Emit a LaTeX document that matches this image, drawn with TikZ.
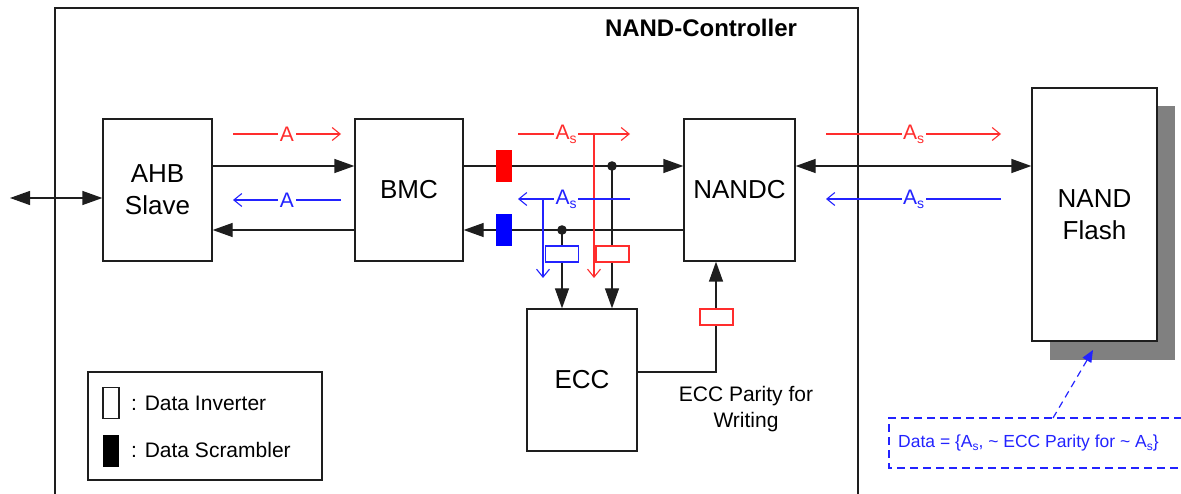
\documentclass[tikz,border=0pt]{standalone}
\usepackage{fontspec}
\setmainfont{Liberation Sans}
\usetikzlibrary{arrows.meta}
\definecolor{rl}{RGB}{255,45,45}
\definecolor{bl}{RGB}{35,35,255}
\definecolor{shadowgray}{RGB}{128,128,128}
\definecolor{ink}{RGB}{30,30,30}
\newcommand{\fbig}{\fontsize{26}{32}\selectfont}
\newcommand{\fmid}{\fontsize{21}{26}\selectfont}
\newcommand{\fdat}{\fontsize{17.5}{21}\selectfont}
\newcommand{\subs}[1]{\raisebox{-0.35ex}{\fontsize{14}{14}\selectfont #1}}
\newcommand{\subd}[1]{\raisebox{-0.35ex}{\fontsize{12}{12}\selectfont #1}}
\begin{document}
\begin{tikzpicture}[x=1pt,y=-1pt,
  box/.style={draw=ink, line width=1.3pt, fill=white, inner sep=0pt, align=center, font=\fbig},
  blk/.style={draw=ink, line width=1.3pt},
  blkarrow/.style={blk, -{Triangle[length=20pt,width=14pt]}},
  dblarrow/.style={blk, {Triangle[length=20pt,width=14pt]}-{Triangle[length=20pt,width=14pt]}},
  rarrow/.style={draw=rl, line width=1.1pt, -{Straight Barb[length=8pt,width=13pt]}},
  barrow/.style={draw=bl, line width=1.1pt, -{Straight Barb[length=8pt,width=13pt]}},
  lab/.style={fill=white, inner sep=1.5pt, font=\fmid},
  inv/.style={fill=white, line width=1.2pt, minimum width=33pt, minimum height=16pt, inner sep=0pt},
  scr/.style={minimum width=16pt, minimum height=32pt, inner sep=0pt},
]
\useasboundingbox (0,0) rectangle (1181,494);
\clip (0,0) rectangle (1181,494);

% outer controller box
\draw[blk] (55,500) -- (55,8) -- (858,8) -- (858,500);
\node[font=\fbig\bfseries\fontsize{24}{28}\selectfont] (title) at (701,28) {NAND-Controller};

% row levels
\coordinate (ya) at (0,166);
\coordinate (yb) at (0,230);
\coordinate (ext) at (10,198);

% blocks
\node[box, minimum width=109pt, minimum height=142pt] (ahb) at (157.5,190) {AHB\\Slave};
\node[box, minimum width=108pt, minimum height=142pt] (bmc) at (409,190) {BMC};
\node[box, minimum width=111pt, minimum height=142pt] (nandc) at (739.5,190) {NANDC};
\node[box, minimum width=110pt, minimum height=142pt] (ecc) at (582,380) {ECC};
\fill[shadowgray] (1050,106) rectangle (1175,360);
\node[box, minimum width=125pt, minimum height=253pt] (flash) at (1094.5,214.5) {NAND\\Flash};

% black connectors
\draw[dblarrow] (ext) -- (ahb.west |- ext);
\draw[blkarrow] (ahb.east |- ya) -- (bmc.west |- ya);
\draw[blkarrow] (bmc.west |- yb) -- (ahb.east |- yb);
\draw[blkarrow] (bmc.east |- ya) -- (nandc.west |- ya);
\draw[blkarrow] (nandc.west |- yb) -- (bmc.east |- yb);
\draw[dblarrow] (nandc.east |- ya) -- (flash.west |- ya);

% branches to ECC
\coordinate (j1) at (612,166);
\coordinate (j2) at (562,230);
\draw[blkarrow] (j1) -- (ecc.north -| j1);
\draw[blkarrow] (j2) -- (ecc.north -| j2);
\fill[ink] (j1) circle (4.8);
\fill[ink] (j2) circle (4.8);

% ECC parity path
\coordinate (pe) at (716,372);
\draw[blkarrow] (ecc.east |- pe) -- (pe) -- (pe |- nandc.south);
\node[inv, draw=rl] (i3) at (716.5,317) {};
\node[font=\fmid, align=center] (parity) at (746,409) {ECC Parity for\\Writing};

% scramblers
\node[scr, fill=red] (s1) at (504,166) {};
\node[scr, fill=blue] (s2) at (504,230) {};

% red/blue data-flow annotations (left)
\coordinate (la1) at (233,134); \coordinate (la2) at (341,134);
\draw[rarrow] (la1) -- node[lab, text=rl] (lA1) {A} (la2);
\coordinate (lb1) at (233,200); \coordinate (lb2) at (341,200);
\draw[barrow] (lb2) -- node[lab, text=bl] (lA2) {A} (lb1);

% middle
\coordinate (ra1) at (518,134); \coordinate (ra2) at (630,134);
\draw[rarrow] (ra1) -- node[lab, text=rl, pos=0.43] (mA1) {A\subs{s}} (ra2);
\coordinate (rv1) at (594,134); \coordinate (rv2) at (594,278);
\draw[rarrow] (rv1) -- (rv2);
\coordinate (ba1) at (518,199); \coordinate (ba2) at (630,199);
\draw[barrow] (ba2) -- node[lab, text=bl, pos=0.57] (mA2) {A\subs{s}} (ba1);
\coordinate (bv1) at (543,199); \coordinate (bv2) at (543,278);
\draw[barrow] (bv1) -- (bv2);

\node[inv, draw=rl] (i1) at (612.5,254) {};
\node[inv, draw=bl] (i2) at (562,254) {};

% right
\coordinate (fa1) at (826,134); \coordinate (fa2) at (1001,134);
\draw[rarrow] (fa1) -- node[lab, text=rl] (fA1) {A\subs{s}} (fa2);
\coordinate (fb1) at (826,199); \coordinate (fb2) at (1001,199);
\draw[barrow] (fb2) -- node[lab, text=bl] (fA2) {A\subs{s}} (fb1);

% data note
\draw[bl, line width=1.2pt, dash pattern=on 8pt off 5pt] (1195,418) -- (889,418) -- (889,468) -- (1195,468);
\node[anchor=west, text=bl, font=\fdat, inner sep=0pt] (data) at (898,443) {Data = \{A\subd{s}, \textasciitilde{} ECC Parity for \textasciitilde{} A\subd{s}\}};
\coordinate (dt) at (1053,418);
\coordinate (dh) at (1093,350);
\draw[bl, line width=1.2pt, dash pattern=on 7pt off 5pt, -{Triangle[length=12pt,width=10pt]}] (dt) -- (dh);

% legend
\node[draw=ink, line width=1.3pt, minimum width=234pt, minimum height=108pt, inner sep=0pt] (legend) at (205,426) {};
\node[draw=ink, line width=1.2pt, fill=white, minimum width=16pt, minimum height=31pt, inner sep=0pt] (linv) at (111,403) {};
\node[fill=black, minimum width=16pt, minimum height=32pt, inner sep=0pt] (lscr) at (111,451) {};
\node[anchor=west, font=\fmid, inner sep=0pt] (tinv) at (131,403) {: Data Inverter};
\node[anchor=west, font=\fmid, inner sep=0pt] (tscr) at (131,450) {: Data Scrambler};
\end{tikzpicture}
\end{document}
